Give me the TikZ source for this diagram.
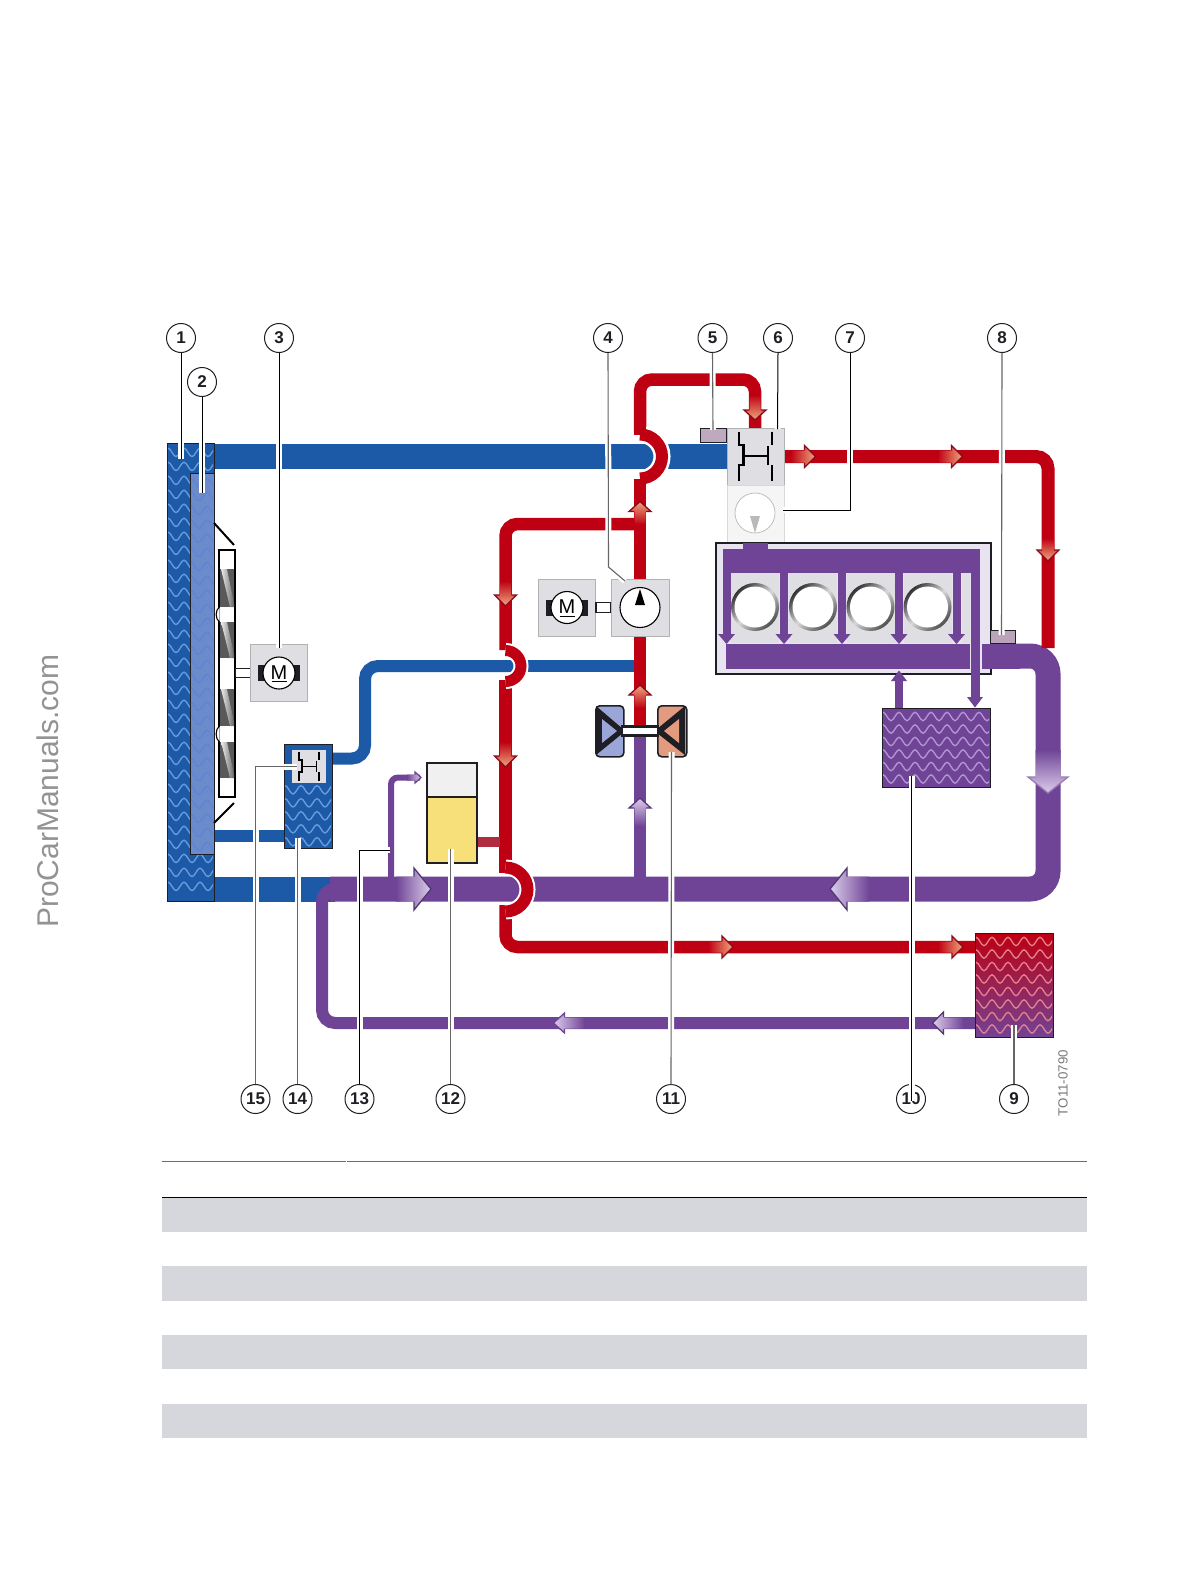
\documentclass[tikz,border=0pt]{standalone}
\usepackage{fontspec}
\setmainfont{Liberation Sans}
\usetikzlibrary{calc}
\definecolor{pblue}{HTML}{1C5AA8}
\definecolor{pred}{HTML}{BE0012}
\definecolor{ppur}{HTML}{6F4496}
\definecolor{lpur}{HTML}{DCCDEB}
\definecolor{lred}{HTML}{EFA77F}
\definecolor{dred}{HTML}{8A0A1A}
\definecolor{dpur}{HTML}{4E3A6E}
\definecolor{boxg}{HTML}{DFDFE3}
\definecolor{band}{HTML}{D6D7DD}
\definecolor{ink}{HTML}{1E1E24}
\definecolor{wblue}{HTML}{6A9BDC}
\definecolor{rad2fill}{HTML}{6C8BCB}
\definecolor{rad2wave}{HTML}{5C86D2}
\definecolor{wpur}{HTML}{B295D2}
\definecolor{wred}{HTML}{E28090}
\definecolor{engfill}{HTML}{E8E3F0}
\definecolor{tankyellow}{HTML}{F7E07A}
\definecolor{tblue}{HTML}{9AA6D8}
\definecolor{tsalmon}{HTML}{E39B7F}
\definecolor{stub}{HTML}{B02C40}
\tikzset{
  x=1pt,y=-1pt,
  bluepipe/.style={draw=pblue,line width=#1,line cap=butt},
  redpipe/.style={draw=pred,line width=#1,line cap=butt},
  purpipe/.style={draw=ppur,line width=#1,line cap=butt},
  callout/.style={circle,draw=ink,line width=1pt,fill=white,minimum size=29pt,inner sep=0pt,font=\bfseries\fontsize{17}{17}\selectfont,text=ink},
  grayset/.style={draw=gray!60,line width=.6pt,fill=boxg},
  leader/.style={draw=black,line width=1pt,line join=miter},
  greyleader/.style={draw=black!60,line width=1.1pt,line join=miter},
  halo/.style={draw=white,line width=6pt},
  keyline/.style={draw=ink,line width=1.6pt},
  barline/.style={draw=black,line width=#1,line cap=butt},
  wave/.style={draw=#1,line width=1.35pt},
  hx/.style={draw=ink,line width=1.4pt},
  motorm/.style={font=\fontsize{20}{20}\selectfont,text=black,inner sep=0pt}
}
% rectangle helper
\newcommand{\boxat}[6]{\node[#6,rectangle,inner sep=0pt,anchor=north west,minimum width={(#3)-(#1)},minimum height={(#4)-(#2)}] (#5) at (#1,#2) {};}
% semicircular bridge around (x,y), radius r
\newcommand{\bumppath}[3]{(#1,{#2-#3}) .. controls ({#1+.5523*#3},{#2-#3}) and ({#1+#3},{#2-.5523*#3}) .. ({#1+#3},#2) .. controls ({#1+#3},{#2+.5523*#3}) and ({#1+.5523*#3},{#2+#3}) .. (#1,{#2+#3})}
% flow arrow: x,y tip; angle; head length; half width; stem half; stem length; pipe; light
\newcommand{\flowarrow}[9]{%
 \begin{scope}[transform canvas={shift={(#1,#2)},rotate=#3}]
  \path[left color=#8,right color=#9] (-#4,-#5) -- (0,0) -- (-#4,#5) -- (-#4,#6) -- ({-#4-(#7)},#6) -- ({-#4-(#7)},-#6) -- (-#4,-#6) -- cycle;
 \end{scope}}
\newcommand{\flowedge}[7]{%
 \begin{scope}[transform canvas={shift={(#1,#2)},rotate=#3}]
  \draw[#7,line width=1.3pt,line join=miter] (-#4,#6) -- (-#4,#5) -- (0,0) -- (-#4,-#5) -- (-#4,-#6);
 \end{scope}}
% plain arrow down
\newcommand{\purdown}[3]{\fill[ppur] ({#1-4},#2) rectangle ({#1+4},{#3-9}); \fill[ppur] ({#1-8.5},{#3-10}) -- (#1,#3) -- ({#1+8.5},{#3-10}) -- cycle;}
% wave field
\newcommand{\wavefield}[7]{%
 \begin{scope}
  \clip (#1,#2) rectangle (#3,#4);
  \foreach \row in {0,...,#7}{
   \pgfmathsetmacro{\yy}{#2+#6*(\row+0.6)}
   \foreach \col in {0,...,14}{
    \pgfmathsetmacro{\xx}{#1-4+16*\col}
    \draw[wave=#5] (\xx,\yy) sin ++(4,-4.2) cos ++(4,4.2) sin ++(4,4.2) cos ++(4,-4.2);
   }}
 \end{scope}}
% H symbol of a thermostat
\newcommand{\hsymbol}[4]{%
 \begin{scope}[shift={(#1,#2)},scale=#3]
  \draw[barline=#4] (-16.5,-24.5) -- (-16.5,-11) -- (-12,-11) -- (-12,9) -- (-16.5,9) -- (-16.5,24.5);
  \draw[barline=#4] (16.5,-24.5) -- (16.5,-11);
  \draw[barline=#4] (16.5,9) -- (16.5,24.5);
  \draw[barline=#4] (12.5,-10) -- (12.5,9);
  \draw[barline=#4] (-12,0) -- (12.5,0);
 \end{scope}}
% electric motor in a grey box
\newcommand{\motorbox}[3]{%
 \node[grayset,rectangle,minimum width=57pt,minimum height=57pt,inner sep=0pt] (#1box) at (#2,#3) {};
 \fill[ink] ({#2-21},{#3-8}) rectangle ({#2+21},{#3+8});
 \node[circle,draw=black,line width=1.1pt,fill=white,minimum size=32pt,inner sep=0pt] (#1rotor) at (#2,#3) {};
 \node[motorm] (#1m) at (#2,{#3-.5}) {M};
 \draw[black,line width=1pt] ({#2-7.5},{#3+8.5}) -- ({#2+7.5},{#3+8.5});}
\begin{document}
\begin{tikzpicture}
\useasboundingbox (0,0) rectangle (1189,1584);
\fill[white] (0,0) rectangle (1189,1584);
% table remains
\foreach \a/\b in {1198/1232,1266/1300.5,1335/1369,1404/1438}
  \fill[band] (162,\a) rectangle (1087,\b);
\draw[gray!85!black,line width=.9pt] (162,1161) -- (345.5,1161) (347,1161) -- (1087,1161);
\draw[black,line width=1pt] (162,1197.5) -- (1087,1197.5);
% watermark and drawing number
\node[rotate=90,text=gray!85,font=\fontsize{30}{30}\selectfont,inner sep=0pt] (wm) at (48,791) {ProCarManuals.com};
\node[rotate=90,text=gray!95!black,font=\fontsize{13.3}{13}\selectfont,inner sep=0pt] (drawno) at (1063,1083) {TO11-0790};
% ---- blue circuit
\draw[bluepipe=25pt] (210,456) -- (660,456);
\draw[bluepipe=25pt] (664,456) -- (728,456);
\draw[bluepipe=12pt] (210,836) -- (286,836);
\draw[bluepipe=25pt] (210,889) -- (335,889);
\draw[bluepipe=12pt,rounded corners=13pt] (330,758.5) -- (365,758.5) -- (365,666) -- (520,666);
\draw[bluepipe=12pt] (525,666) -- (636,666);
% ---- purple circuit
\draw[purpipe=25pt,rounded corners=18pt] (975,656) -- (1048,656) -- (1048,889) -- (330,889);
\draw[purpipe=12pt,rounded corners=13pt] (975,1023) -- (322,1023) -- (322,889) -- (345,889);
\draw[purpipe=12pt] (640,889) -- (640,725);
\draw[purpipe=6pt,rounded corners=7pt] (391,889) -- (391,777.5) -- (420,777.5);
% ---- red circuit
\draw[redpipe=12.5pt,rounded corners=12pt] (640,432) -- (640,379.5) -- (755,379.5) -- (755,430);
\draw[redpipe=12.5pt] (640,480) -- (640,730);
\draw[redpipe=13pt,rounded corners=12pt] (782,456.5) -- (1048,456.5) -- (1048,648);
\draw[redpipe=12.5pt,rounded corners=12pt] (640,524) -- (505.5,524) -- (505.5,650);
\draw[redpipe=12.5pt] (505.5,680) -- (505.5,873);
\draw[redpipe=12.5pt,rounded corners=12pt] (505.5,905) -- (505.5,947) -- (980,947);
\draw[stub,line width=10pt] (476,841.5) -- (500,841.5);
% bridges
\draw[white,line width=17pt] \bumppath{640}{456.5}{22};
\draw[redpipe=12pt] \bumppath{640}{456.5}{22};
\draw[redpipe=12.5pt] (640,425) -- (640,434.5);
\draw[redpipe=12.5pt] (640,478.5) -- (640,488);
\draw[white,line width=15pt] \bumppath{505.5}{666}{15.5};
\draw[redpipe=11pt] \bumppath{505.5}{666}{15.5};
\draw[white,line width=16pt] \bumppath{505.5}{889.5}{22};
\draw[redpipe=12pt] \bumppath{505.5}{889.5}{22};
% ---- radiators
\boxat{167}{443}{214}{901}{rad1}{hx,fill=pblue}
\wavefield{168}{444}{213}{900}{wblue}{14}{31}
\boxat{190}{473}{214}{854}{rad2}{hx,fill=rad2fill}
\wavefield{191}{474}{213}{853}{rad2wave}{14}{26}
% fan
\node[rectangle,draw=black,line width=1.3pt,fill=white,minimum width=16pt,minimum height=247pt,inner sep=0pt] (fan) at (227,673.5) {};
\foreach \a/\b in {569/607,622/658,689/726,742/778}{
  \fill[black!65] (220,\a) rectangle (234,\b);
  \shade[left color=gray!15,right color=black!60] (221,\a) -- (230,\b) -- (234,\b) -- (234,{\b-4}) -- (227,\a) -- cycle;
}
\draw[black,line width=1.1pt,fill=white] (219.5,607) .. controls (215,610) and (215,619) .. (219.5,622);
\draw[black,line width=1.1pt,fill=white] (219.5,726) .. controls (215,729) and (215,739) .. (219.5,742);
\draw[black,line width=2pt] (214,523) -- (234,545);
\draw[black,line width=2pt] (214,823) -- (234,803);
\node[rectangle,draw=ink,line width=1pt,fill=white,minimum width=16pt,minimum height=9pt,inner sep=0pt] (fanshaft) at (243,673) {};
\motorbox{fm}{279}{673}
% small radiator with thermostat
\boxat{284}{744}{332}{848}{rad14}{hx,fill=pblue}
\wavefield{285}{782}{331}{847}{wblue}{13}{4}
\boxat{292}{750}{326}{783}{th15}{fill=boxg}
\hsymbol{309}{766.5}{.6}{1.4pt}
% expansion tank
\boxat{426}{762}{476}{796}{tanktop}{keyline,fill=gray!12}
\boxat{426}{796}{476}{862}{tankbot}{keyline,fill=tankyellow}
% electric water pump
\motorbox{pm}{567}{607.5}
\node[rectangle,draw=ink,line width=1.2pt,fill=white,minimum width=15pt,minimum height=10pt,inner sep=0pt] (pumpshaft) at (603.5,607.5) {};
\node[grayset,rectangle,minimum width=58pt,minimum height=57pt,inner sep=0pt] (pump) at (640,607.5) {};
\node[circle,draw=black,line width=1.1pt,fill=white,minimum size=40pt,inner sep=0pt] (pumpc) at (640,607.5) {};
\fill[black] (640,589) -- (645,605) -- (635,605) -- cycle;
% turbine shaft and wheels
\boxat{595}{705}{623}{756}{tl}{draw=ink,line width=1.6pt,fill=tblue,rounded corners=4pt}
\boxat{657}{705}{686}{756}{tr}{draw=ink,line width=1.6pt,fill=tsalmon,rounded corners=4pt}
\fill[ink] (596,706) -- (623,729) -- (623,733) -- (596,755) -- cycle;
\fill[tblue] (602,719) -- (617,731) -- (602,743) -- cycle;
\fill[ink] (685,706) -- (657,729) -- (657,733) -- (685,755) -- cycle;
\fill[tsalmon] (679,719) -- (664,731) -- (679,743) -- cycle;
\node[rectangle,draw=ink,line width=2.4pt,fill=white,minimum width=36pt,minimum height=9pt,inner sep=0pt] (tshaft) at (640,731) {};
% thermostat with sensors
\boxat{700}{428}{726}{442}{s5}{draw=ink,line width=1.2pt,fill=violet!35!gray!50!white}
\boxat{727}{428}{784}{485}{th6}{grayset}
\hsymbol{755.5}{456}{1}{2.6pt}
\boxat{727}{485}{784}{542}{map7}{draw=gray!30,line width=.6pt,fill=gray!8}
\node[circle,draw=gray!50,line width=.8pt,fill=white,minimum size=40pt,inner sep=0pt] (mapc) at (755,513) {};
\fill[gray!55] (755,533) -- (750,516) -- (760,516) -- cycle;
% ---- engine
\boxat{715}{542}{990}{673}{engine}{draw=ink,line width=1.6pt,fill=engfill}
\fill[ppur] (743,542.8) rectangle (768,549);
\fill[ppur] (723,549) rectangle (980,573);
\fill[ppur] (726,644) rectangle (970,669);
\foreach \a/\b in {731/779,789/837,846.5/895.5,904/952,962/970}
  \fill[boxg] (\a,573) rectangle (\b,643);
\fill[engfill] (970,573) rectangle (980,643);
\foreach \cx in {755,813,870.5,927.5}{
  \node[circle,minimum size=48pt,inner sep=0pt,left color=black!80,right color=black!70,middle color=gray!30,shading angle=45] at (\cx,607) {};
  \node[circle,minimum size=41pt,inner sep=0pt,fill=white] at (\cx,607) {};
}
\purdown{726.5}{573}{644}
\purdown{784}{573}{644}
\purdown{842}{573}{644}
\purdown{899}{573}{644}
\purdown{956.5}{573}{644}
\fill[engfill] (971,644) rectangle (982,669);
\fill[ppur] (970.5,549) rectangle (979.5,698);
\fill[ppur] (967,697) -- (975,707.5) -- (983,697) -- cycle;
\draw[ppur,line width=8pt] (899,708) -- (899,679);
\fill[ppur] (891,681) -- (899,670.5) -- (907,681) -- cycle;
% restore pipe after engine wall
\fill[ppur] (982,644) rectangle (1020,669);
\boxat{990}{630}{1015}{643}{s8}{draw=ink,line width=1.2pt,fill=violet!30!gray!55!white}
% heat exchangers
\boxat{882}{708}{990}{787}{hx10}{hx,fill=ppur}
\wavefield{883}{709}{989}{786}{wpur}{12.5}{5}
\boxat{975}{933}{1053}{1037}{hx9}{hx,top color=pred,bottom color=ppur}
\wavefield{976}{934}{1052}{1036}{wred}{12.5}{7}
% ---- flow arrows
\flowarrow{755}{420}{-90}{10}{11}{5.5}{15}{pred}{lred}
\flowedge{755}{420}{-90}{10}{11}{6}{dred}
\flowarrow{815.5}{456.5}{0}{11}{11}{6}{14}{pred}{lred}
\flowedge{815.5}{456.5}{0}{11}{11}{6.5}{dred}
\flowarrow{962.5}{456.5}{0}{11}{11}{6}{14}{pred}{lred}
\flowedge{962.5}{456.5}{0}{11}{11}{6.5}{dred}
\flowarrow{1048}{561}{-90}{11}{11}{6}{12}{pred}{lred}
\flowedge{1048}{561}{-90}{11}{11}{6}{dred}
\flowarrow{640}{501.5}{90}{10}{11}{5.5}{13}{pred}{lred}
\flowedge{640}{501.5}{90}{10}{11}{6}{dred}
\flowarrow{640}{685}{90}{10}{11}{5.5}{13}{pred}{lred}
\flowedge{640}{685}{90}{10}{11}{6}{dred}
\flowarrow{505.5}{606}{-90}{11}{11}{5.5}{14}{pred}{lred}
\flowedge{505.5}{606}{-90}{11}{11}{6}{dred}
\flowarrow{505.5}{767}{-90}{11}{11}{5.5}{14}{pred}{lred}
\flowedge{505.5}{767}{-90}{11}{11}{6}{dred}
\flowarrow{733}{947}{0}{11}{11}{5.5}{14}{pred}{lred}
\flowedge{733}{947}{0}{11}{11}{6}{dred}
\flowarrow{963}{947}{0}{11}{11}{5.5}{14}{pred}{lred}
\flowedge{963}{947}{0}{11}{11}{6}{dred}
\flowarrow{640}{798}{90}{10}{11}{5.5}{18}{ppur}{lpur}
\flowedge{640}{798}{90}{10}{11}{6}{ppur!80!black}
\flowarrow{932.5}{1023}{180}{11}{11}{5.5}{20}{ppur}{lpur}
\flowedge{932.5}{1023}{180}{11}{11}{6}{dpur}
\flowarrow{553.5}{1023}{180}{11}{10}{5.5}{20}{ppur}{lpur}
\flowedge{553.5}{1023}{180}{11}{10}{6}{ppur}
\flowarrow{421}{777.5}{0}{6}{5.5}{3}{8}{ppur}{lpur}
\flowedge{421}{777.5}{0}{6}{5.5}{3}{ppur}
\flowarrow{431}{889}{0}{17}{21}{12.5}{18}{ppur}{lpur}
\flowedge{431}{889}{0}{17}{21}{12.5}{dpur}
\flowarrow{830}{889}{180}{17}{21}{12.5}{22}{ppur}{lpur}
\flowedge{830}{889}{180}{17}{21}{12.5}{dpur}
\flowarrow{1048}{793}{-90}{16}{20}{12.5}{27}{ppur}{lpur}
\flowedge{1048}{793}{-90}{16}{20}{12.5}{ppur!70!white}
% ---- numbered callouts
\foreach \n/\x/\y in {1/181/338,2/202/382,3/279/338,4/608/338,5/712.5/338,6/778/338,7/850/338,8/1002/338,15/255.5/1099,14/297.5/1099,13/359.5/1099,12/450.5/1099,11/671/1099,9/1014/1099}
  \node[callout] (c\n) at (\x,\y) {\n};
\node[callout] (c10) at (911,1099) {10};
% ---- leaders
\coordinate (e1) at (181,459);
\coordinate (e2) at (202,493);
\coordinate (e3) at (279,648);
\coordinate (k4) at (608.5,567);
\coordinate (e4) at (625,581);
\coordinate (e5) at (713,430);
\coordinate (e6) at (777.5,429);
\coordinate (k7) at (850,510);
\coordinate (e7) at (783,510);
\coordinate (e8) at (1001.5,635);
\coordinate (e9) at (1014,1025);
\coordinate (e10) at (911.5,776);
\coordinate (f10) at (911.5,1101);
\coordinate (e11) at (671.5,752);
\coordinate (e12) at (450.5,849);
\coordinate (e13) at (390,850);
\coordinate (k13) at (359.5,850);
\coordinate (e14) at (297.5,838);
\coordinate (e15) at (296.5,766.5);
\coordinate (k15) at (255.5,766.5);
\foreach \p/\q in {halo/halo,leader/greyleader}{
  \draw[\p] (c1.south) -- (e1);
  \draw[\p] (c2.south) -- (e2);
  \draw[\p] (c3.south) -- (e3);
  \draw[\q] (c4.south) -- (k4) -- (e4);
  \draw[\q] (c5.south) -- (e5);
  \draw[\p] (c6.south) -- (e6);
  \draw[\p] (c7.south) -- (k7) -- (e7);
  \draw[\q] (c8.south) -- (e8);
  \draw[\q] (c9.north) -- (e9);
  \draw[\p] (f10) -- (e10);
  \draw[\q] (c11.north) -- (e11);
  \draw[\q] (c12.north) -- (e12);
  \draw[\p] (c13.north) -- (k13) -- (e13);
  \draw[\q] (c14.north) -- (e14);
  \draw[\q] (c15.north) -- (k15) -- (e15);
}
\end{tikzpicture}
\end{document}
